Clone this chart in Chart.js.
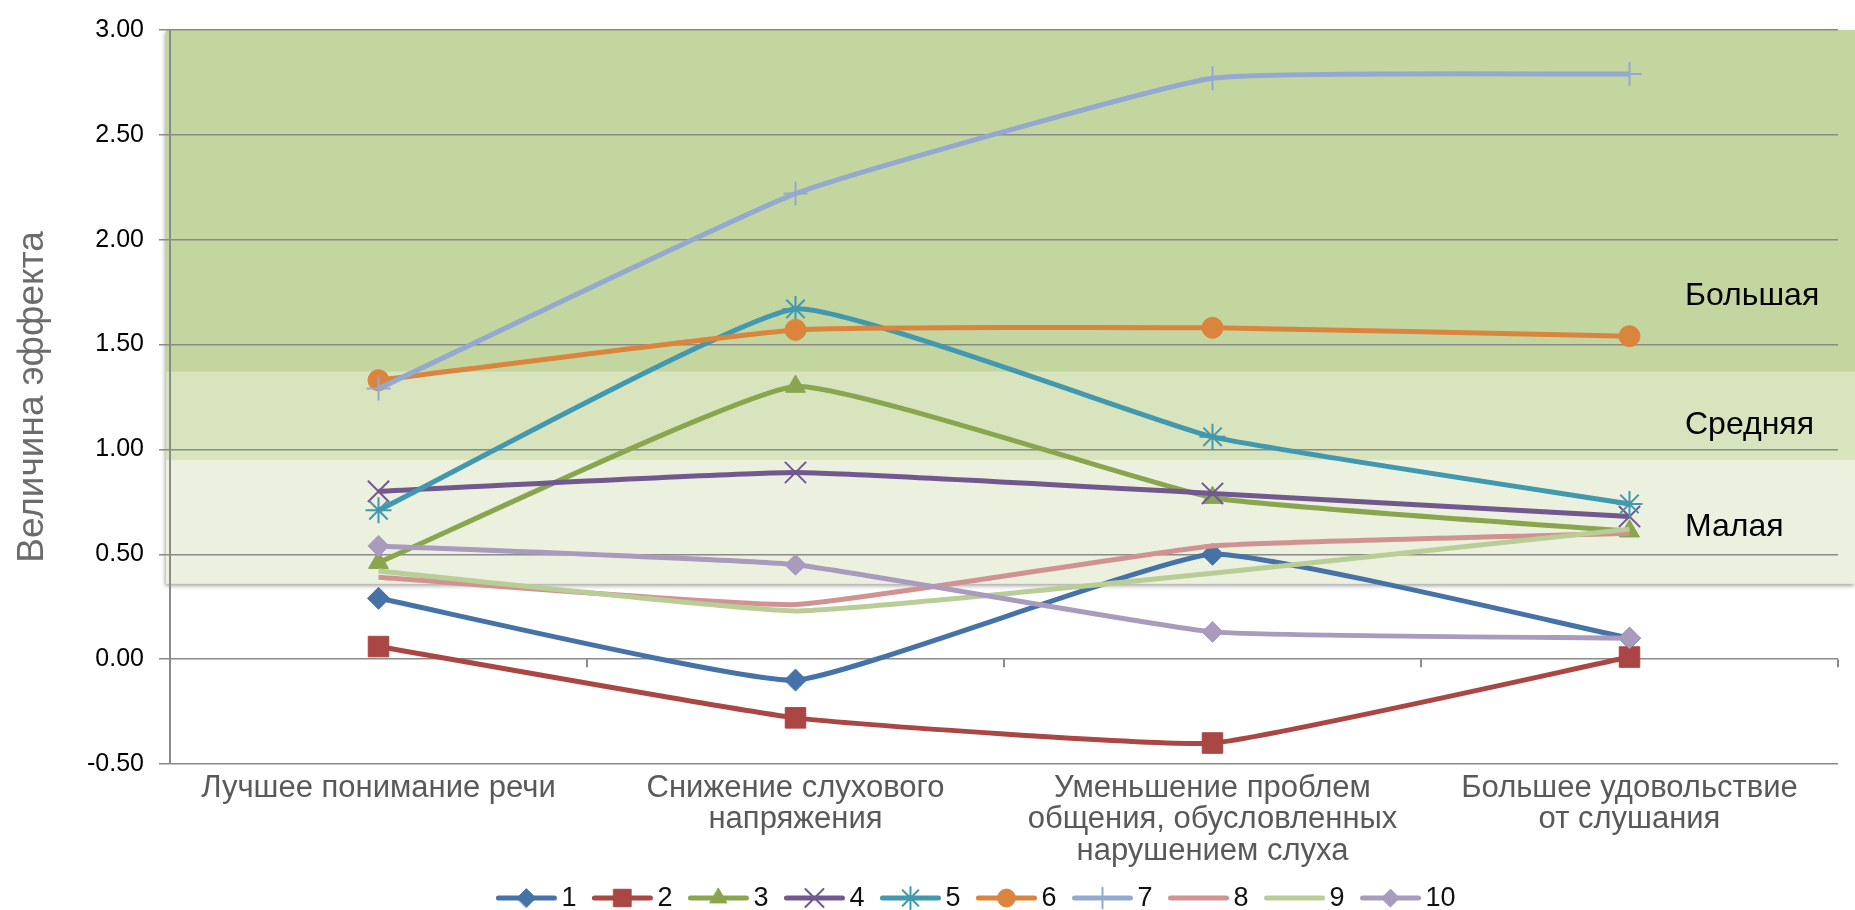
<!DOCTYPE html>
<html lang="ru">
<head>
<meta charset="utf-8">
<title>Величина эффекта</title>
<script src="https://cdn.jsdelivr.net/npm/chart.js@4.4.1/dist/chart.umd.min.js"></script>
<style>
  html, body { margin: 0; padding: 0; background: #fff; }
  #wrap { width: 1855px; height: 910px; position: relative; }
</style>
</head>
<body>
<div id="wrap"><canvas id="effectChart"></canvas></div>
<script>
// categories (multi-line labels)
const categories = [
  ['Лучшее понимание речи'],
  ['Снижение слухового', 'напряжения'],
  ['Уменьшение проблем', 'общения, обусловленных', 'нарушением слуха'],
  ['Большее удовольствие', 'от слушания']
];

const seriesNames = ['1', '2', '3', '4', '5', '6', '7', '8', '9', '10'];

// values
const s1 = [0.29, -0.10, 0.50, 0.10];
const s2 = [0.06, -0.28, -0.40, 0.01];
const s3 = [0.46, 1.30, 0.77, 0.61];
const s4 = [0.80, 0.89, 0.79, 0.68];
const s5 = [0.71, 1.67, 1.06, 0.74];
const s6 = [1.33, 1.57, 1.58, 1.54];
const s7 = [1.29, 2.22, 2.77, 2.79];
const s8 = [0.39, 0.26, 0.54, 0.60];
const s9 = [0.42, 0.23, 0.41, 0.62];
const s10 = [0.54, 0.45, 0.13, 0.10];

const yTicks = [-0.5, 0, 0.5, 1.0, 1.5, 2.0, 2.5, 3.0];

// effect size bands
const bandNames = ['Большая', 'Средняя', 'Малая'];
const bandEdges = [3.00, 1.37, 0.95, 0.36];
const bandLabelValues = [1.73, 1.115, 0.63];

const colors = ['#4572A7', '#AA4643', '#89A54E', '#71588F', '#4198AF',
                '#DB843D', '#93A9CF', '#D19392', '#B9CD96', '#A99BBD'];
const markers = ['rectRot', 'rect', 'triangle', 'crossRot', 'star',
                 'circle', 'cross', 'circle', 'circle', 'rectRot'];
const markerSize = [11, 14.5, 11.5, 15, 13, 10.5, 12, 0, 0, 10.5];
const bandColors = ['#c4d69f', '#d7e4bd', '#ebf1de'];

const FONT = "'Liberation Sans', Arial, sans-serif";
const series = [s1, s2, s3, s4, s5, s6, s7, s8, s9, s10];
const lineOnly = m => m === 'cross' || m === 'crossRot' || m === 'star';

const datasets = series.map((vals, i) => ({
  label: seriesNames[i],
  data: vals,
  borderColor: colors[i],
  backgroundColor: colors[i],
  borderWidth: 5,
  pointStyle: markers[i],
  pointRadius: markerSize[i],
  pointBorderWidth: lineOnly(markers[i]) ? 2 : 1,
  pointBorderColor: colors[i],
  pointBackgroundColor: colors[i],
  tension: 0.12,
  order: series.length - i,
  clip: false
}));

// green bands behind the grid
const bandsPlugin = {
  id: 'bands',
  beforeDraw(chart) {
    const { ctx, chartArea, scales: { y } } = chart;
    const x0 = chartArea.left - 4, w = chart.width - x0;
    ctx.save();
    // shadow for the whole block
    ctx.shadowColor = 'rgba(0,0,0,0.35)';
    ctx.shadowBlur = 4;
    ctx.shadowOffsetY = 2;
    ctx.shadowOffsetX = -1;
    ctx.fillStyle = bandColors[2];
    const top = y.getPixelForValue(bandEdges[0]);
    ctx.fillRect(x0, top, w, y.getPixelForValue(bandEdges[3]) - top);
    ctx.shadowColor = 'transparent';
    for (let i = 0; i < 3; i++) {
      const a = y.getPixelForValue(bandEdges[i]);
      const b = y.getPixelForValue(bandEdges[i + 1]);
      ctx.fillStyle = bandColors[i];
      ctx.fillRect(x0, a, w, b - a);
    }
    ctx.restore();
  },
  afterDraw(chart) {
    const { ctx, chartArea, scales: { y } } = chart;
    ctx.save();
    ctx.font = '32px ' + FONT;
    ctx.fillStyle = '#000';
    ctx.textBaseline = 'middle';
    ctx.textAlign = 'left';
    bandNames.forEach((name, i) => {
      ctx.fillText(name, chartArea.right - 153, y.getPixelForValue(bandLabelValues[i]));
    });
    ctx.restore();
  }
};

// small category tick marks on the zero line
const zeroTicksPlugin = {
  id: 'zeroTicks',
  beforeDatasetsDraw(chart) {
    const { ctx, scales: { x, y } } = chart;
    const y0 = y.getPixelForValue(0);
    const step = x.getPixelForValue(1) - x.getPixelForValue(0);
    ctx.save();
    ctx.strokeStyle = '#8a8a8a';
    ctx.lineWidth = 2;
    ctx.beginPath();
    for (let i = 0; i < categories.length; i++) {
      const px = Math.round(x.getPixelForValue(i) + step / 2);
      ctx.moveTo(px, y0);
      ctx.lineTo(px, y0 + 8);
    }
    ctx.stroke();
    ctx.restore();
  }
};

// legend with line + marker symbols
const lineLegendPlugin = {
  id: 'lineLegend',
  afterDraw(chart) {
    const { ctx } = chart;
    const sets = chart.data.datasets;
    const symW = 60, gap = 5, after = 16;
    ctx.save();
    ctx.font = "27px 'Liberation Sans Narrow', " + FONT;
    const widths = sets.map(ds => symW + gap + ctx.measureText(ds.label).width + after);
    const total = widths.reduce((a, b) => a + b, 0) - after;
    let x = 976 - total / 2;
    const yc = chart.height - 12;
    sets.forEach((ds, i) => {
      ctx.strokeStyle = ds.borderColor;
      ctx.lineWidth = 5;
      ctx.lineCap = 'round';
      ctx.beginPath();
      ctx.moveTo(x + 2, yc);
      ctx.lineTo(x + symW - 2, yc);
      ctx.stroke();
      if (ds.pointRadius > 0 && Chart.helpers && Chart.helpers.drawPoint) {
        ctx.fillStyle = ds.backgroundColor;
        ctx.lineWidth = ds.pointBorderWidth;
        Chart.helpers.drawPoint(ctx, {
          pointStyle: ds.pointStyle,
          radius: ds.pointRadius * 0.85,
          rotation: 0,
          borderWidth: ds.pointBorderWidth
        }, x + symW / 2, yc);
      }
      ctx.fillStyle = '#111';
      ctx.textBaseline = 'middle';
      ctx.textAlign = 'left';
      ctx.fillText(ds.label, x + symW + gap, yc + 1);
      x += widths[i];
    });
    ctx.restore();
  }
};

const ctx = document.getElementById('effectChart');
new Chart(ctx, {
  type: 'line',
  data: { labels: categories, datasets: datasets },
  options: {
    responsive: true,
    maintainAspectRatio: false,
    animation: false,
    layout: { padding: { top: 23, right: 7, bottom: 36, left: 0 } },
    plugins: {
      legend: { display: false },
      tooltip: { enabled: false }
    },
    scales: {
      x: {
        offset: true,
        grid: { display: false },
        border: { display: false },
        ticks: {
          color: '#595959',
          font: { family: FONT, size: 31, lineHeight: 1.03 },
          padding: 0,
          maxRotation: 0,
          autoSkip: false
        },
        afterFit: s => { s.height = 110; }
      },
      y: {
        min: -0.5,
        max: 3,
        afterBuildTicks: s => { s.ticks = yTicks.map(v => ({ value: v })); },
        ticks: {
          callback: v => Number(v).toFixed(2),
          color: '#000',
          font: { family: FONT, size: 25 },
          padding: 15
        },
        grid: { color: '#8a8a8a', lineWidth: 1.5, tickLength: 11 },
        border: { display: true, color: '#8a8a8a', width: 2 },
        title: {
          display: true,
          text: 'Величина эффекта',
          color: '#6b6b6b',
          font: { family: FONT, size: 37 },
          padding: { top: 11, bottom: 0 }
        },
        afterFit: s => { s.width = 170; }
      }
    }
  },
  plugins: [bandsPlugin, zeroTicksPlugin, lineLegendPlugin]
});
</script>
</body>
</html>
